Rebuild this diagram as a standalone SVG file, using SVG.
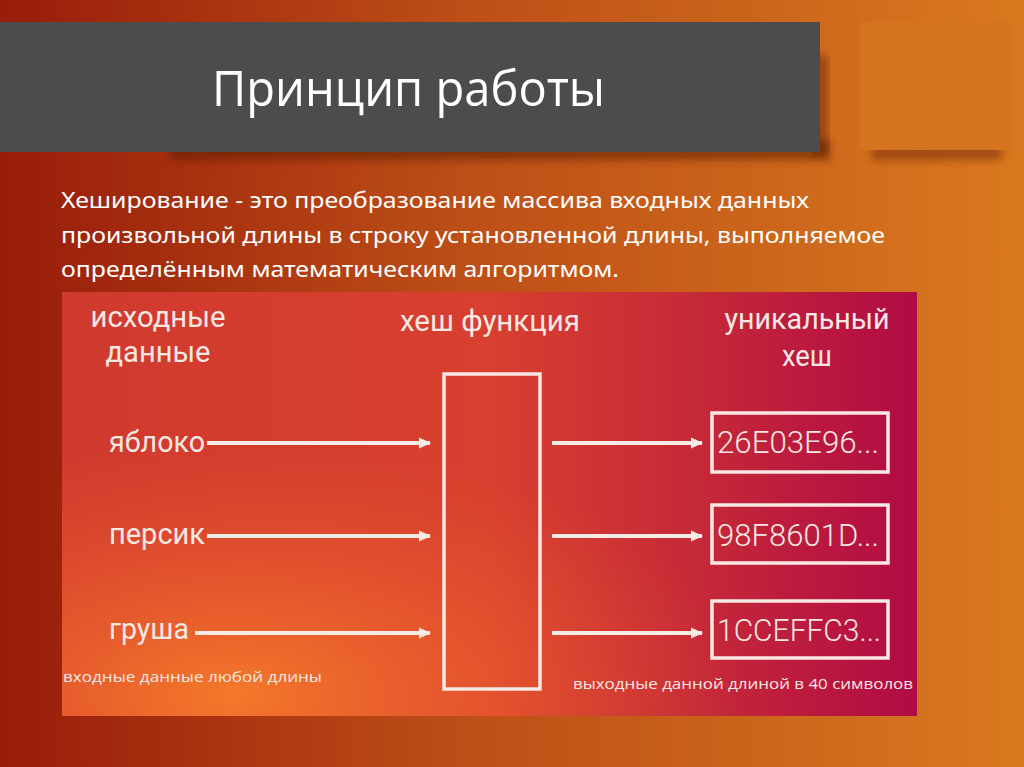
<svg xmlns="http://www.w3.org/2000/svg" width="1024" height="767" viewBox="0 0 1024 767">
<defs>
<linearGradient id="bg" x1="0" y1="0" x2="1" y2="0">
<stop offset="0" stop-color="#981c0a"/>
<stop offset="0.45" stop-color="#bd4e17"/>
<stop offset="1" stop-color="#d9791f"/>
</linearGradient>
<linearGradient id="panel" x1="0" y1="0" x2="1" y2="0">
<stop offset="0" stop-color="#d03a2e"/>
<stop offset="0.5" stop-color="#d83f2f"/>
<stop offset="0.75" stop-color="#c52838"/>
<stop offset="1" stop-color="#b10b45"/>
</linearGradient>
<radialGradient id="glow" cx="0.2" cy="0.95" r="0.6">
<stop offset="0" stop-color="#f67c2a" stop-opacity="0.95"/>
<stop offset="0.5" stop-color="#f0682c" stop-opacity="0.5"/>
<stop offset="1" stop-color="#e55a2c" stop-opacity="0"/>
</radialGradient>
<filter id="blur" x="-10%" y="-50%" width="120%" height="200%"><feGaussianBlur stdDeviation="4"/></filter>
<marker id="ah" markerWidth="14" markerHeight="14" refX="11" refY="7" orient="auto" markerUnits="userSpaceOnUse">
<path d="M0,1.5 L12,7 L0,12.5 Z" fill="#f7ebe6"/>
</marker>
<style>
.t{fill:#f6e8e3;font-family:Roboto,"Open Sans",sans-serif}
.lbl{font-size:30px;font-weight:400}
.hash{font-size:31px;font-weight:300}
.sm{font-size:15px;font-family:"Open Sans",Roboto,sans-serif}
.box{fill:none;stroke:#f6e8e3;stroke-width:3.5}
.arr{stroke:#f7ebe6;stroke-width:4;fill:none;marker-end:url(#ah)}
.body{fill:#ffffff;font-family:"Noto Sans","Open Sans",sans-serif;font-size:21px}
</style>
</defs>
<rect width="1024" height="767" fill="url(#bg)"/>

<g id="title-bar">
<rect x="170" y="140" width="660" height="20" fill="#5a1e06" opacity="0.55" filter="url(#blur)"/>
<rect x="812" y="55" width="16" height="100" fill="#5a1e06" opacity="0.45" filter="url(#blur)"/>
<rect x="0" y="22" width="820" height="130" fill="#4c4c4c"/>
<text x="212" y="106" fill="#ffffff" font-family="'Open Sans',sans-serif" font-size="50" textLength="393" lengthAdjust="spacingAndGlyphs">Принцип работы</text>
</g>

<g id="side-square">
<rect x="872" y="146" width="130" height="14" fill="#7a2e08" opacity="0.6" filter="url(#blur)"/>
<rect x="860" y="22" width="153" height="128" fill="#d5741f"/>
</g>

<g id="description">
<text class="body" x="61" y="208" textLength="748" lengthAdjust="spacingAndGlyphs">Хеширование - это преобразование массива входных данных</text>
<text class="body" x="61" y="243" textLength="824" lengthAdjust="spacingAndGlyphs">произвольной длины в строку установленной длины, выполняемое</text>
<text class="body" x="61" y="277" textLength="558" lengthAdjust="spacingAndGlyphs">определённым математическим алгоритмом.</text>
</g>

<g id="panel">
<rect x="62" y="292" width="855" height="424" fill="url(#panel)"/>
<rect x="62" y="292" width="855" height="424" fill="url(#glow)"/>
</g>

<g id="headers">
<text class="t lbl" x="158" y="327" text-anchor="middle" textLength="135" lengthAdjust="spacingAndGlyphs">исходные</text>
<text class="t lbl" x="158" y="362" text-anchor="middle" textLength="105" lengthAdjust="spacingAndGlyphs">данные</text>
<text class="t lbl" x="490" y="331" text-anchor="middle" textLength="180" lengthAdjust="spacingAndGlyphs">хеш функция</text>
<text class="t lbl" x="807" y="329" text-anchor="middle" textLength="165" lengthAdjust="spacingAndGlyphs">уникальный</text>
<text class="t lbl" x="807" y="366" text-anchor="middle" textLength="50" lengthAdjust="spacingAndGlyphs">хеш</text>
</g>

<g id="inputs">
<text class="t lbl" x="109" y="452" textLength="96" lengthAdjust="spacingAndGlyphs">яблоко</text>
<text class="t lbl" x="109" y="544" textLength="96" lengthAdjust="spacingAndGlyphs">персик</text>
<text class="t lbl" x="109" y="639" textLength="80" lengthAdjust="spacingAndGlyphs">груша</text>
</g>

<g id="hash-function">
<rect class="box" x="444" y="374" width="96" height="315"/>
</g>

<g id="hash1">
<rect class="box" x="712" y="413" width="176" height="59"/>
<text class="t hash" x="717" y="453" textLength="162" lengthAdjust="spacingAndGlyphs">26E03E96...</text>
</g>
<g id="hash2">
<rect class="box" x="712" y="505" width="176" height="58"/>
<text class="t hash" x="717" y="546" textLength="162" lengthAdjust="spacingAndGlyphs">98F8601D...</text>
</g>
<g id="hash3">
<rect class="box" x="712" y="601" width="176" height="57"/>
<text class="t hash" x="717" y="641" textLength="164" lengthAdjust="spacingAndGlyphs">1CCEFFC3...</text>
</g>

<g id="notes">
<text class="t sm" x="63" y="682" textLength="259" lengthAdjust="spacingAndGlyphs">входные данные любой длины</text>
<text class="t sm" x="573" y="689" textLength="340" lengthAdjust="spacingAndGlyphs">выходные данной длиной в 40 символов</text>
</g>

<g id="connectors">
<line class="arr" x1="207" y1="443" x2="430" y2="443"/>
<line class="arr" x1="207" y1="536" x2="430" y2="536"/>
<line class="arr" x1="195" y1="633" x2="430" y2="633"/>
<line class="arr" x1="552" y1="443" x2="702" y2="443"/>
<line class="arr" x1="552" y1="536" x2="702" y2="536"/>
<line class="arr" x1="552" y1="633" x2="702" y2="633"/>
</g>
</svg>
